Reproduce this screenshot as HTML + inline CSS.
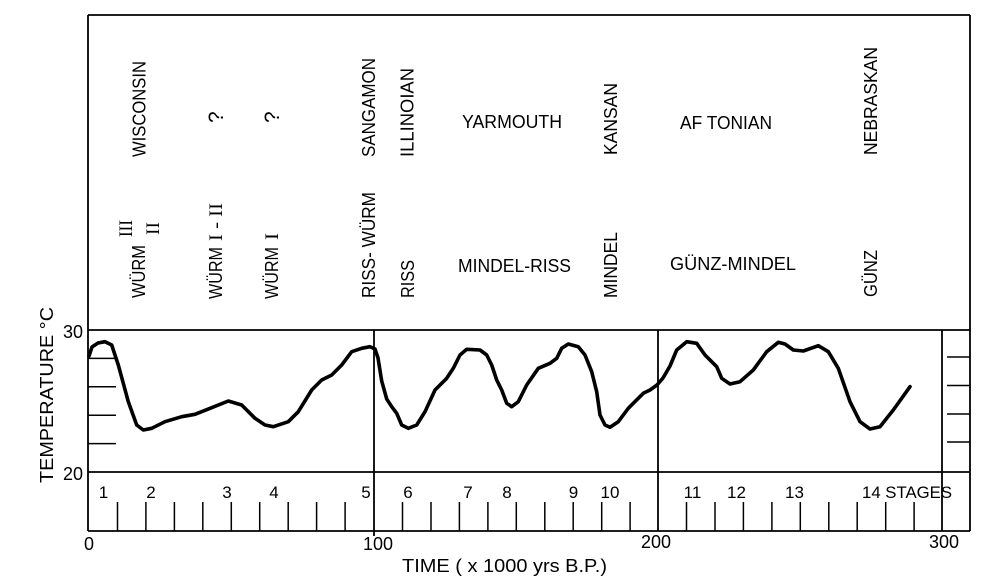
<!DOCTYPE html>
<html><head><meta charset="utf-8"><style>
html,body{margin:0;padding:0;background:#fff;}
svg{display:block;}
text{font-family:"Liberation Sans",sans-serif;fill:#000;}
.s{font-family:"Liberation Serif",serif;}
</style></head><body>
<svg width="990" height="581" viewBox="0 0 990 581" xmlns="http://www.w3.org/2000/svg">
<rect width="990" height="581" fill="#fff"/>
<g stroke="#000" stroke-width="1.8" fill="none">
<line x1="88" y1="15" x2="970" y2="15"/>
<line x1="88" y1="15" x2="88" y2="531"/>
<line x1="970" y1="15" x2="970" y2="531"/>
<line x1="88" y1="330" x2="970" y2="330"/>
<line x1="88" y1="472" x2="970" y2="472"/>
<line x1="88" y1="531" x2="970" y2="531"/>
<line x1="374" y1="330" x2="374" y2="536"/>
<line x1="658" y1="330" x2="658" y2="531"/>
<line x1="942" y1="330" x2="942" y2="531"/>
</g>
<g stroke="#000" stroke-width="1.5">
<line x1="88" y1="358.4" x2="116" y2="358.4"/>
<line x1="88" y1="386.8" x2="116" y2="386.8"/>
<line x1="88" y1="415.2" x2="116" y2="415.2"/>
<line x1="88" y1="443.6" x2="116" y2="443.6"/>
<line x1="947" y1="357" x2="970" y2="357"/>
<line x1="947" y1="385.5" x2="970" y2="385.5"/>
<line x1="947" y1="414" x2="970" y2="414"/>
<line x1="947" y1="442" x2="970" y2="442"/>
<line x1="117.5" y1="502" x2="117.5" y2="531"/>
<line x1="145.9" y1="502" x2="145.9" y2="531"/>
<line x1="174.4" y1="502" x2="174.4" y2="531"/>
<line x1="202.8" y1="502" x2="202.8" y2="531"/>
<line x1="231.3" y1="502" x2="231.3" y2="531"/>
<line x1="259.7" y1="502" x2="259.7" y2="531"/>
<line x1="288.2" y1="502" x2="288.2" y2="531"/>
<line x1="316.6" y1="502" x2="316.6" y2="531"/>
<line x1="345.1" y1="502" x2="345.1" y2="531"/>
<line x1="402.5" y1="502" x2="402.5" y2="531"/>
<line x1="431" y1="502" x2="431" y2="531"/>
<line x1="459.4" y1="502" x2="459.4" y2="531"/>
<line x1="487.9" y1="502" x2="487.9" y2="531"/>
<line x1="516.3" y1="502" x2="516.3" y2="531"/>
<line x1="544.8" y1="502" x2="544.8" y2="531"/>
<line x1="573.2" y1="502" x2="573.2" y2="531"/>
<line x1="601.7" y1="502" x2="601.7" y2="531"/>
<line x1="630.1" y1="502" x2="630.1" y2="531"/>
<line x1="686.5" y1="502" x2="686.5" y2="531"/>
<line x1="715" y1="502" x2="715" y2="531"/>
<line x1="743.4" y1="502" x2="743.4" y2="531"/>
<line x1="771.9" y1="502" x2="771.9" y2="531"/>
<line x1="800.3" y1="502" x2="800.3" y2="531"/>
<line x1="828.8" y1="502" x2="828.8" y2="531"/>
<line x1="857.2" y1="502" x2="857.2" y2="531"/>
<line x1="885.7" y1="502" x2="885.7" y2="531"/>
<line x1="914.1" y1="502" x2="914.1" y2="531"/>
</g>
<polyline fill="none" stroke="#000" stroke-width="3.6" stroke-linejoin="round" stroke-linecap="round" points="89,356 92,347 98,343 105,341.7 111.7,345 118.3,365 128.3,401.7 136.7,425 143.3,430 151.7,428.3 165,421.7 181.7,416.7 195,414.3 211.7,407.7 228.3,401 241.7,405 255,418.3 265,425 273.3,426.7 288.3,421.7 298.3,411.7 311.7,390 321.7,380 331.7,375 341.7,365 351.7,351.7 361.7,348.3 370,346.7 375,349 378,358 381.7,381 386.7,399 391.7,406.7 396.7,413.3 401.7,425 408.3,428.3 416.7,425 425,411.7 435,390 446.7,378.3 453.3,368.3 460,355 466.7,349.3 480,350 486.7,355 491.7,365 496.7,380 501.7,390 506.7,403.3 511.7,406.7 518.3,401.7 526.7,385 538.3,368.3 550,363.3 556.7,358.3 561.7,348.3 568.3,344 578.3,346.7 585,355 591.7,371.7 596.7,391.7 600,415 605,425 610,427.3 618.3,421.7 628.3,408.3 643.3,393.3 650,390 657,385 663,378 670,366 676.7,350 686.7,341.7 696.7,343.3 705,355 716.7,366.7 721.7,378.3 730,384 740,381.7 753.3,370 766.7,351.7 778.3,342.3 785,344 793.3,350 803.3,351 818.3,345.7 828.3,351.7 838.3,368.3 850,401.7 860,421.7 870,429 880,426.7 893.3,410 910,386.7"/>

<g font-size="18">
<text transform="translate(145.5,157) rotate(-90)" textLength="96" lengthAdjust="spacingAndGlyphs">WISCONSIN</text>
<text transform="translate(375,157) rotate(-90)" textLength="99" lengthAdjust="spacingAndGlyphs">SANGAMON</text>
<text transform="translate(413.5,157) rotate(-90)" textLength="89" lengthAdjust="spacingAndGlyphs">ILLINOIAN</text>
<text transform="translate(617,155) rotate(-90)" textLength="72" lengthAdjust="spacingAndGlyphs">KANSAN</text>
<text transform="translate(877,155) rotate(-90)" textLength="108" lengthAdjust="spacingAndGlyphs">NEBRASKAN</text>
<text transform="translate(223,123) rotate(-90)" font-size="21">?</text>
<text transform="translate(279,123) rotate(-90)" font-size="21">?</text>
<text transform="translate(145,298) rotate(-90)" textLength="53" lengthAdjust="spacingAndGlyphs">WÜRM</text>
<text class="s" transform="translate(132,237) rotate(-90)" font-size="19" textLength="17" lengthAdjust="spacingAndGlyphs">III</text>
<text class="s" transform="translate(159,235) rotate(-90)" font-size="19" textLength="13" lengthAdjust="spacingAndGlyphs">II</text>
<text transform="translate(222,299) rotate(-90)" textLength="52" lengthAdjust="spacingAndGlyphs">WÜRM</text>
<text class="s" transform="translate(222,241) rotate(-90)" font-size="19" textLength="38" lengthAdjust="spacingAndGlyphs">I - II</text>
<text transform="translate(278,299) rotate(-90)" textLength="52" lengthAdjust="spacingAndGlyphs">WÜRM</text>
<text class="s" transform="translate(278,240) rotate(-90)" font-size="19" textLength="7" lengthAdjust="spacingAndGlyphs">I</text>
<text transform="translate(375,298) rotate(-90)" textLength="106" lengthAdjust="spacingAndGlyphs">RISS- WÜRM</text>
<text transform="translate(414,298) rotate(-90)" textLength="38" lengthAdjust="spacingAndGlyphs">RISS</text>
<text transform="translate(617,298) rotate(-90)" textLength="66" lengthAdjust="spacingAndGlyphs">MINDEL</text>
<text transform="translate(877,297) rotate(-90)" textLength="47" lengthAdjust="spacingAndGlyphs">GÜNZ</text>
<text x="462" y="128" textLength="100" lengthAdjust="spacingAndGlyphs">YARMOUTH</text>
<text x="680" y="129" textLength="92" lengthAdjust="spacingAndGlyphs">AF TONIAN</text>
<text x="458" y="272" textLength="113" lengthAdjust="spacingAndGlyphs">MINDEL-RISS</text>
<text x="670" y="270" textLength="126" lengthAdjust="spacingAndGlyphs">GÜNZ-MINDEL</text>
<text x="83" y="338" text-anchor="end">30</text>
<text x="83" y="480" text-anchor="end">20</text>
<text x="89" y="550" text-anchor="middle">0</text>
<text x="378" y="550" text-anchor="middle">100</text>
<text x="656" y="548" text-anchor="middle">200</text>
<text x="944" y="548" text-anchor="middle">300</text>
<text x="402" y="572" textLength="205" lengthAdjust="spacingAndGlyphs">TIME ( x 1000 yrs B.P.)</text>
<text transform="translate(53,483) rotate(-90)" textLength="176" lengthAdjust="spacingAndGlyphs">TEMPERATURE °C</text>
</g>
<g font-size="17">
<text x="103.5" y="498" text-anchor="middle">1</text>
<text x="151" y="498" text-anchor="middle">2</text>
<text x="227" y="498" text-anchor="middle">3</text>
<text x="274" y="498" text-anchor="middle">4</text>
<text x="366" y="498" text-anchor="middle">5</text>
<text x="408" y="498" text-anchor="middle">6</text>
<text x="468" y="498" text-anchor="middle">7</text>
<text x="507" y="498" text-anchor="middle">8</text>
<text x="573.5" y="498" text-anchor="middle">9</text>
<text x="610" y="498" text-anchor="middle">10</text>
<text x="692.5" y="498" text-anchor="middle">11</text>
<text x="736.5" y="498" text-anchor="middle">12</text>
<text x="794.5" y="498" text-anchor="middle">13</text>
<text x="862" y="498" textLength="90" lengthAdjust="spacingAndGlyphs">14 STAGES</text>
</g>
</svg>
</body></html>
